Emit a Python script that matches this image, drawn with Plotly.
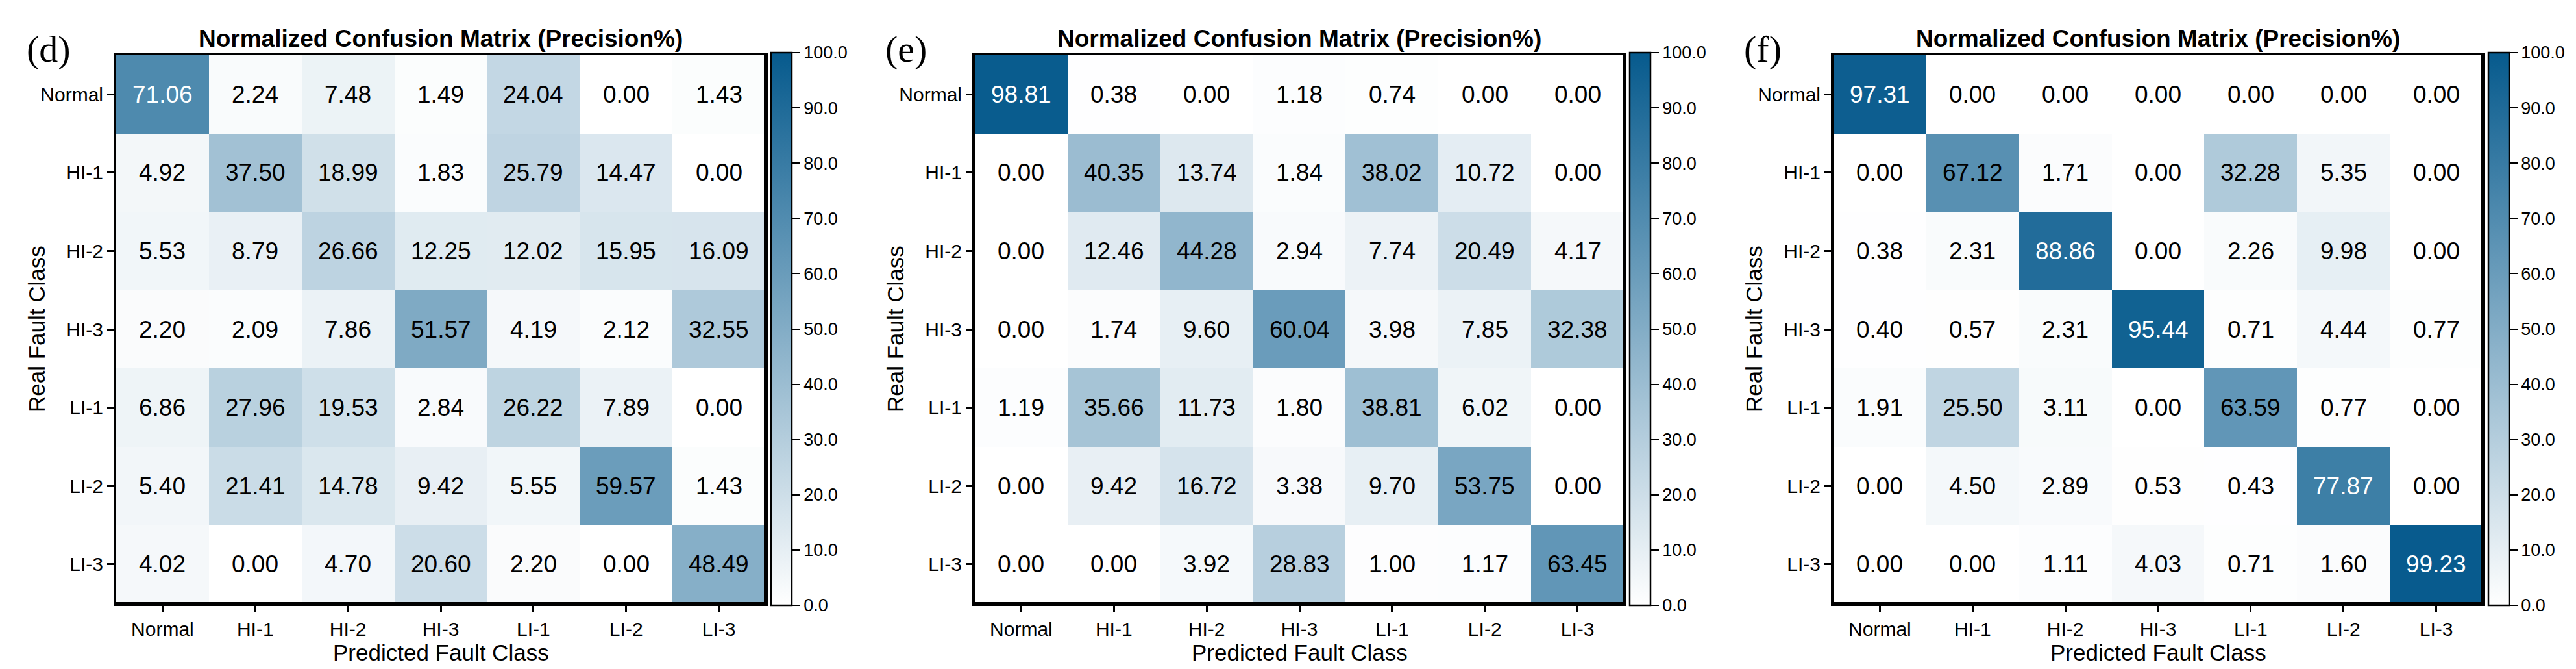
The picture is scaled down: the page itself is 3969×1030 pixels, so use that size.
import plotly.graph_objects as go

classes = ["Normal", "HI-1", "HI-2", "HI-3", "LI-1", "LI-2", "LI-3"]

cm_d = [
    [71.06, 2.24, 7.48, 1.49, 24.04, 0.00, 1.43],
    [4.92, 37.50, 18.99, 1.83, 25.79, 14.47, 0.00],
    [5.53, 8.79, 26.66, 12.25, 12.02, 15.95, 16.09],
    [2.20, 2.09, 7.86, 51.57, 4.19, 2.12, 32.55],
    [6.86, 27.96, 19.53, 2.84, 26.22, 7.89, 0.00],
    [5.40, 21.41, 14.78, 9.42, 5.55, 59.57, 1.43],
    [4.02, 0.00, 4.70, 20.60, 2.20, 0.00, 48.49],
]
cm_e = [
    [98.81, 0.38, 0.00, 1.18, 0.74, 0.00, 0.00],
    [0.00, 40.35, 13.74, 1.84, 38.02, 10.72, 0.00],
    [0.00, 12.46, 44.28, 2.94, 7.74, 20.49, 4.17],
    [0.00, 1.74, 9.60, 60.04, 3.98, 7.85, 32.38],
    [1.19, 35.66, 11.73, 1.80, 38.81, 6.02, 0.00],
    [0.00, 9.42, 16.72, 3.38, 9.70, 53.75, 0.00],
    [0.00, 0.00, 3.92, 28.83, 1.00, 1.17, 63.45],
]
cm_f = [
    [97.31, 0.00, 0.00, 0.00, 0.00, 0.00, 0.00],
    [0.00, 67.12, 1.71, 0.00, 32.28, 5.35, 0.00],
    [0.38, 2.31, 88.86, 0.00, 2.26, 9.98, 0.00],
    [0.40, 0.57, 2.31, 95.44, 0.71, 4.44, 0.77],
    [1.91, 25.50, 3.11, 0.00, 63.59, 0.77, 0.00],
    [0.00, 4.50, 2.89, 0.53, 0.43, 77.87, 0.00],
    [0.00, 0.00, 1.11, 4.03, 0.71, 1.60, 99.23],
]
panel_labels = ["(d)", "(e)", "(f)"]
title_text = "Normalized Confusion Matrix (Precision%)"
xlabel = "Predicted Fault Class"
ylabel = "Real Fault Class"
cbar_ticks = [0, 10, 20, 30, 40, 50, 60, 70, 80, 90, 100]

W, H = 3969, 1030
SANS = "Liberation Sans, Arial, sans-serif"
SERIF = "Liberation Serif, Times New Roman, serif"
colorscale = [[0.0, "#ffffff"], [1.0, "#065a8d"]]

lefts = [171, 1494, 2817]
pw = 1000
top_px, bot_px = 77, 921

fig = go.Figure()
annotations = []
shapes = []
for i, (cm, lab) in enumerate(zip([cm_d, cm_e, cm_f], panel_labels)):
    n = "" if i == 0 else str(i + 1)
    xa, ya = "x" + n, "y" + n
    L = lefts[i]
    R = L + pw
    fig.add_trace(go.Heatmap(
        z=cm, x=classes, y=classes, xaxis=xa, yaxis=ya,
        zmin=0, zmax=100, colorscale=colorscale,
        hoverinfo="skip",
        colorbar=dict(
            x=(R + 9) / W, xanchor="left", xpad=0, ypad=0,
            y=1 - 73 / H, yanchor="top", lenmode="fraction",
            len=(bot_px + 3 - 73) / H,
            thickness=32, thicknessmode="pixels",
            outlinewidth=2.5, outlinecolor="black",
            tickvals=cbar_ticks, ticktext=[f"{v:.1f}" for v in cbar_ticks],
            ticks="outside", ticklen=12, tickwidth=1.5, tickcolor="black",
            tickfont=dict(family=SANS, size=27, color="black"),
        ),
    ))
    axcommon = dict(
        showline=True, mirror=True, linewidth=4, linecolor="black",
        ticks="outside", ticklen=10, tickwidth=3, tickcolor="black",
        tickfont=dict(family=SANS, size=30, color="black"),
        showgrid=False, zeroline=False, fixedrange=True,
    )
    fig.layout["xaxis" + n] = dict(domain=[L / W, R / W], anchor=ya,
                                    categoryorder="array", categoryarray=classes,
                                    **axcommon)
    fig.layout["yaxis" + n] = dict(domain=[1 - bot_px / H, 1 - top_px / H], anchor=xa,
                                    autorange="reversed", categoryorder="array",
                                    categoryarray=classes, **axcommon)
    # thicker right and bottom spines (as in the reference)
    shapes.append(dict(type="line", xref="paper", yref="paper",
                       x0=(R + 1) / W, x1=(R + 1) / W,
                       y0=1 - (bot_px + 4) / H, y1=1 - (top_px - 2) / H,
                       line=dict(color="black", width=6)))
    shapes.append(dict(type="line", xref="paper", yref="paper",
                       x0=(L - 2) / W, x1=(R + 4) / W,
                       y0=1 - (bot_px + 1) / H, y1=1 - (bot_px + 1) / H,
                       line=dict(color="black", width=6)))
    for r, row in enumerate(cm):
        for c, v in enumerate(row):
            annotations.append(dict(
                x=classes[c], y=classes[r], xref=xa, yref=ya, text=f"{v:.2f}",
                showarrow=False,
                font=dict(family=SANS, size=37, color="white" if v > 70 else "black"),
            ))
    cx = (L + R) / 2 / W
    annotations.append(dict(x=cx, y=1 - 52 / H, xref="paper", yref="paper",
                            text="<b>" + title_text + "</b>", showarrow=False,
                            xanchor="center", yanchor="middle",
                            font=dict(family=SANS, size=37, color="black")))
    annotations.append(dict(x=cx, y=1 - 996 / H, xref="paper", yref="paper",
                            text=xlabel, showarrow=False, xanchor="center", yanchor="middle",
                            font=dict(family=SANS, size=35, color="black")))
    annotations.append(dict(x=(L - 122) / W, y=1 - (top_px + bot_px) / 2 / H,
                            xref="paper", yref="paper", text=ylabel, textangle=-90,
                            showarrow=False, xanchor="center", yanchor="middle",
                            font=dict(family=SANS, size=35, color="black")))
    annotations.append(dict(x=(L - 140) / W, y=1 - 68 / H, xref="paper", yref="paper",
                            text=lab, showarrow=False, xanchor="left", yanchor="middle",
                            font=dict(family=SERIF, size=58, color="black")))

fig.update_layout(
    width=W, height=H, margin=dict(l=0, r=0, t=0, b=0),
    paper_bgcolor="white", plot_bgcolor="white",
    annotations=annotations, shapes=shapes, showlegend=False,
)
fig.write_html("out.html")
